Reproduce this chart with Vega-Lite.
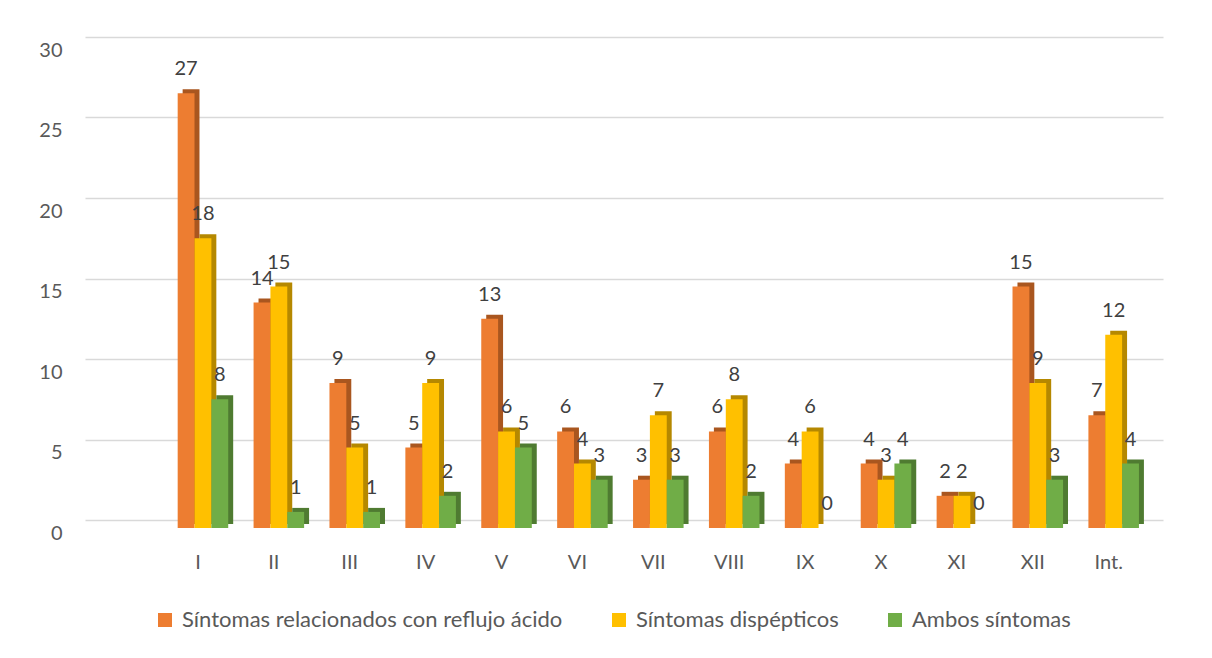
{
  "$schema": "https://vega.github.io/schema/vega-lite/v6.json",
  "width": 1078,
  "height": 483,
  "autosize": "none",
  "padding": {"left": 85, "top": 37, "right": 49, "bottom": 138},
  "background": "white",
  "config": {"view": {"stroke": null}, "font": "Lato"},
  "data": {"values": [
    {"grupo": "I", "serie": "Síntomas relacionados con reflujo ácido", "valor": 27},
    {"grupo": "I", "serie": "Síntomas dispépticos", "valor": 18},
    {"grupo": "I", "serie": "Ambos síntomas", "valor": 8},
    {"grupo": "II", "serie": "Síntomas relacionados con reflujo ácido", "valor": 14},
    {"grupo": "II", "serie": "Síntomas dispépticos", "valor": 15},
    {"grupo": "II", "serie": "Ambos síntomas", "valor": 1},
    {"grupo": "III", "serie": "Síntomas relacionados con reflujo ácido", "valor": 9},
    {"grupo": "III", "serie": "Síntomas dispépticos", "valor": 5},
    {"grupo": "III", "serie": "Ambos síntomas", "valor": 1},
    {"grupo": "IV", "serie": "Síntomas relacionados con reflujo ácido", "valor": 5},
    {"grupo": "IV", "serie": "Síntomas dispépticos", "valor": 9},
    {"grupo": "IV", "serie": "Ambos síntomas", "valor": 2},
    {"grupo": "V", "serie": "Síntomas relacionados con reflujo ácido", "valor": 13},
    {"grupo": "V", "serie": "Síntomas dispépticos", "valor": 6},
    {"grupo": "V", "serie": "Ambos síntomas", "valor": 5},
    {"grupo": "VI", "serie": "Síntomas relacionados con reflujo ácido", "valor": 6},
    {"grupo": "VI", "serie": "Síntomas dispépticos", "valor": 4},
    {"grupo": "VI", "serie": "Ambos síntomas", "valor": 3},
    {"grupo": "VII", "serie": "Síntomas relacionados con reflujo ácido", "valor": 3},
    {"grupo": "VII", "serie": "Síntomas dispépticos", "valor": 7},
    {"grupo": "VII", "serie": "Ambos síntomas", "valor": 3},
    {"grupo": "VIII", "serie": "Síntomas relacionados con reflujo ácido", "valor": 6},
    {"grupo": "VIII", "serie": "Síntomas dispépticos", "valor": 8},
    {"grupo": "VIII", "serie": "Ambos síntomas", "valor": 2},
    {"grupo": "IX", "serie": "Síntomas relacionados con reflujo ácido", "valor": 4},
    {"grupo": "IX", "serie": "Síntomas dispépticos", "valor": 6},
    {"grupo": "IX", "serie": "Ambos síntomas", "valor": 0},
    {"grupo": "X", "serie": "Síntomas relacionados con reflujo ácido", "valor": 4},
    {"grupo": "X", "serie": "Síntomas dispépticos", "valor": 3},
    {"grupo": "X", "serie": "Ambos síntomas", "valor": 4},
    {"grupo": "XI", "serie": "Síntomas relacionados con reflujo ácido", "valor": 2},
    {"grupo": "XI", "serie": "Síntomas dispépticos", "valor": 2},
    {"grupo": "XI", "serie": "Ambos síntomas", "valor": 0},
    {"grupo": "XII", "serie": "Síntomas relacionados con reflujo ácido", "valor": 15},
    {"grupo": "XII", "serie": "Síntomas dispépticos", "valor": 9},
    {"grupo": "XII", "serie": "Ambos síntomas", "valor": 3},
    {"grupo": "Int.", "serie": "Síntomas relacionados con reflujo ácido", "valor": 7},
    {"grupo": "Int.", "serie": "Síntomas dispépticos", "valor": 12},
    {"grupo": "Int.", "serie": "Ambos síntomas", "valor": 4}
  ]},
  "encoding": {
    "xOffset": {
      "field": "serie", "type": "nominal",
      "sort": ["Síntomas relacionados con reflujo ácido", "Síntomas dispépticos", "Ambos síntomas"],
      "scale": {"paddingInner": 0, "paddingOuter": 0}
    },
    "y": {
      "field": "valor", "type": "quantitative",
      "scale": {"domain": [0, 30], "nice": false},
      "axis": {"title": null, "values": [0, 5, 10, 15, 20, 25, 30], "domain": false, "ticks": false, "grid": true, "gridColor": "#d9d9d9", "gridWidth": 1.5, "labelPadding": 23, "labelOffset": 13, "labelFontSize": 20, "labelColor": "#595959", "labelFont": "Lato"}
    }
  },
  "layer": [
    {
      "mark": {"type": "bar", "yOffset": 4, "y2Offset": 8},
      "encoding": {
        "x": {
          "field": "grupo", "type": "nominal",
          "sort": ["I", "II", "III", "IV", "V", "VI", "VII", "VIII", "IX", "X", "XI", "XII", "Int."],
          "scale": {"paddingInner": 0.334, "paddingOuter": 0.769, "align": 0.8365},
          "axis": null
        },
        "color": {
          "field": "serie", "type": "nominal",
          "scale": {"domain": ["Síntomas relacionados con reflujo ácido", "Síntomas dispépticos", "Ambos síntomas"], "range": ["#A9561F", "#B58800", "#4F7B31"]},
          "legend": null
        }
      }
    },
    {
      "encoding": {
        "x": {
          "field": "grupo", "type": "nominal",
          "sort": ["I", "II", "III", "IV", "V", "VI", "VII", "VIII", "IX", "X", "XI", "XII", "Int."],
          "scale": {"paddingInner": 0.334, "paddingOuter": 0.769, "align": 0.794},
          "axis": {"title": null, "domain": false, "ticks": false, "labelAngle": 0, "labelPadding": 32, "labelOffset": -5, "labelFontSize": 20, "labelColor": "#595959", "labelFont": "Lato"}
        }
      },
      "layer": [
        {
          "mark": {"type": "bar", "yOffset": 8, "y2Offset": 8},
          "encoding": {
            "color": {
              "field": "serie", "type": "nominal",
              "scale": {"domain": ["Síntomas relacionados con reflujo ácido", "Síntomas dispépticos", "Ambos síntomas"], "range": ["#ED7D31", "#FFC000", "#70AD47"]},
              "legend": {"title": null, "orient": "none", "legendX": 69, "legendY": 572, "direction": "horizontal", "symbolType": "square", "symbolSize": 196, "symbolStrokeWidth": 0, "labelFontSize": 22, "labelColor": "#595959", "labelFont": "Lato", "labelLimit": 600, "labelOffset": 6, "columnPadding": 45}
            }
          }
        },
        {
          "mark": {"type": "text", "dy": -10, "baseline": "alphabetic", "fontSize": 20, "color": "#404040", "font": "Lato"},
          "encoding": {"text": {"field": "valor", "type": "quantitative"}}
        }
      ]
    }
  ],
  "resolve": {"scale": {"x": "independent", "color": "independent"}}
}
